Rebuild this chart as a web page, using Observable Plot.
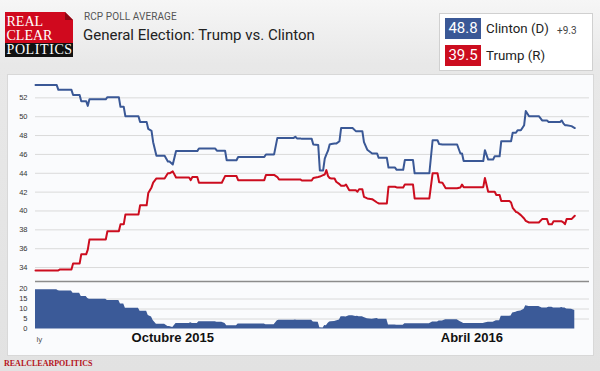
<!DOCTYPE html>
<html><head><meta charset="utf-8">
<script src="https://cdn.jsdelivr.net/npm/d3@7"></script>
<script src="https://cdn.jsdelivr.net/npm/@observablehq/plot@0.6"></script>
<style>
html,body{margin:0;padding:0;}
body{width:600px;height:371px;position:relative;overflow:hidden;background:linear-gradient(#f6f6f6 0px,#e8e8e8 65px,#e2e2e2 100%);font-family:Roboto,"Liberation Sans",Arial,sans-serif;}
.abs{position:absolute;}
#logo-red{left:5px;top:12px;width:68px;height:31px;background:#d0091e;clip-path:polygon(0 0,60px 0,68px 8px,68px 100%,0 100%);}
#logo-fold{left:65px;top:12px;width:8px;height:8px;background:#8e0613;clip-path:polygon(0 0,100% 100%,0 100%);}
#logo-black{left:5px;top:43px;width:68px;height:14px;background:#111;}
.logo-t{font-family:"Liberation Serif","Times New Roman",serif;font-size:14px;line-height:14px;color:#fff;white-space:nowrap;}
#rcp{left:84px;top:10.6px;font-size:10px;line-height:12px;color:#555;letter-spacing:0.1px;}
#title{left:83px;top:26.8px;font-size:15px;line-height:16px;color:#222;}
#legend{left:439px;top:13px;width:152px;height:56px;background:#fff;border:1px solid #d0d0d0;}
.vbox{width:36px;height:21px;color:#fff;font-size:15px;line-height:21px;text-align:center;}
.lname{font-size:13.3px;line-height:16px;color:#222;}
#panel{left:7px;top:74px;width:585px;height:280px;background:#fafbfd;border:1px solid #d8d8d8;}
#footer{left:4px;top:358.5px;font-family:"Liberation Serif","Times New Roman",serif;font-weight:bold;font-size:8px;line-height:10px;color:#b5121b;}
</style></head>
<body>
<div id="logo-red" class="abs"></div>
<div id="logo-fold" class="abs"></div>
<div id="logo-black" class="abs"></div>
<div class="abs logo-t" style="left:6.5px;top:15px;">REAL</div>
<div class="abs logo-t" style="left:6.5px;top:28.5px;">CLEAR</div>
<div class="abs logo-t" style="left:6.5px;top:43px;letter-spacing:0.6px;">POLITICS</div>
<div id="rcp" class="abs">RCP POLL AVERAGE</div>
<div id="title" class="abs">General Election: Trump vs. Clinton</div>
<div id="legend" class="abs"></div>
<div id="panel" class="abs"></div>
<div id="main" class="abs" style="left:0;top:75px;"></div>
<div id="lower" class="abs" style="left:0;top:281px;"></div>
<div id="footer" class="abs">REALCLEARPOLITICS</div>
<script>
// ---- data ----
const startDate = "2015-07-09"; // day 0
const days = [0,13,14,15,22,23,27,28,31,32,33,43,44,51,52,54,55,63,64,68,69,71,72,74,79,81,82,84,86,94,95,96,99,100,110,111,114,116,117,123,124,140,141,146,148,149,158,159,160,162,163,169,170,173,174,176,177,178,179,180,181,183,184,186,187,189,190,192,194,196,197,198,200,201,203,206,209,210,215,216,220,221,225,226,231,232,241,243,246,247,249,251,258,260,261,262,274,275,277,280,281,282,284,285,290,291,292,294,295,297,299,300,302,308,310,313,314,316,317,321,322,323,324,325,328,330];
const clinton = [53.35,53.35,52.85,52.85,52.85,52.3,52.3,51.65,51.65,51.15,51.85,51.85,52.07,52.07,51.05,51.05,50.05,50.05,49.45,49.45,48.7,48.5,47.3,45.85,45.85,45.25,45.25,44.93,46.35,46.35,46.35,46.35,46.35,46.62,46.62,46.4,46.4,46.4,45.38,45.38,45.72,45.72,46.0,46.0,47.75,47.75,47.75,47.88,47.7,47.7,47.65,47.65,47.05,47.0,44.3,44.3,45.56,46.0,46.4,47.05,47.1,47.15,47.15,47.4,48.8,48.8,48.8,48.8,48.8,48.47,48.47,48.47,48.47,47.3,46.5,46.1,46.1,45.64,45.64,44.6,44.6,44.37,44.37,45.4,45.4,44.0,44.0,47.5,47.5,47.1,47.05,47.05,47.05,46.1,46.1,45.3,45.3,46.45,45.45,45.45,45.8,45.8,45.8,47.4,47.4,47.4,48.3,48.3,48.57,48.57,49.1,50.6,50.05,50.05,49.6,49.6,49.45,49.45,49.45,49.45,49.6,49.3,49.1,49.1,49.0,48.8];
const trump = [33.7,33.7,33.7,33.8,33.8,34.42,34.42,35.4,35.4,35.9,36.97,36.97,37.85,37.85,38.58,38.58,39.62,39.62,40.6,40.6,41.9,42.5,43.0,43.45,43.45,44.0,44.0,44.2,43.55,43.55,43.27,43.6,43.6,43.0,43.0,43.0,43.0,43.7,43.7,43.7,43.27,43.27,43.82,43.82,43.6,43.35,43.35,43.35,43.35,43.35,43.23,43.23,43.5,43.6,43.65,43.8,43.87,44.33,43.7,43.5,43.45,43.45,43.1,42.85,42.67,42.67,42.8,42.2,42.2,42.2,42.04,42.3,42.3,41.5,41.33,41.25,40.9,40.8,40.8,42.57,42.57,42.5,42.5,42.8,42.8,41.33,41.33,44.0,44.0,43.05,43.0,42.42,42.42,42.5,42.8,42.53,42.53,43.5,42.04,42.04,42.04,41.7,41.7,41.05,41.05,40.9,40.34,39.9,39.85,39.56,39.2,38.95,38.78,38.78,39.14,39.14,38.6,38.6,38.9,38.9,38.9,38.8,38.6,39.14,39.14,39.5];
const mainTicks = [34,36,38,40,42,44,46,48,50,52];
const spreadTicks = [0,5,10,15,20];
const spreadGrid = [5,10,15];
const monthDates = ["2015-10-01","2016-04-01"];
const monthLabels = ["Octubre 2015","Abril 2016"];
const edgeLabel = "ly";
const legendNames = ["Clinton (D)","Trump (R)"];
const legendValues = ["48.8","39.5"];
const legendSpread = "+9.3";

// ---- styling ----
const BLUE = "#3a5896", RED = "#cc0d1f", AREA = "#3b5a98";
const t0 = new Date(startDate + "T00:00:00Z");
const toDate = d => new Date(t0.getTime() + d * 864e5);
const rows = days.map((d, i) => ({date: toDate(d), clinton: clinton[i], trump: trump[i], spread: +(clinton[i] - trump[i]).toFixed(2)}));
const xDomain = [toDate(0), toDate(339)];
const yMin = 32.52, yMax = 54.37;
const baseStyle = {background: "transparent", fontFamily: "'Liberation Sans', Arial, sans-serif", fontSize: "7.5px", color: "#333", overflow: "visible"};

const main = Plot.plot({
  width: 600, height: 207,
  marginLeft: 35, marginRight: 11, marginTop: 0, marginBottom: 1,
  style: baseStyle,
  x: {type: "utc", domain: xDomain, axis: null},
  y: {domain: [yMin, yMax], ticks: mainTicks, tickSize: 0, tickPadding: 8, label: null, tickFormat: d => String(d)},
  marks: [
    Plot.ruleY(mainTicks, {stroke: "#dadada", strokeWidth: 1}),
    Plot.ruleY([yMin], {stroke: "#8c8c8c", strokeWidth: 1.3}),
    Plot.line(rows, {x: "date", y: "trump", stroke: RED, strokeWidth: 2}),
    Plot.line(rows, {x: "date", y: "clinton", stroke: BLUE, strokeWidth: 2})
  ]
});
document.getElementById("main").appendChild(main);

const lower = Plot.plot({
  width: 600, height: 75,
  marginLeft: 35, marginRight: 11, marginTop: 7.5, marginBottom: 27.5,
  style: baseStyle,
  x: {type: "utc", domain: xDomain, axis: null},
  y: {domain: [0, 20], ticks: spreadTicks, tickSize: 0, tickPadding: 8, label: null, tickFormat: d => String(d)},
  marks: [
    Plot.ruleY(spreadGrid, {stroke: "#dadada", strokeWidth: 1}),
    Plot.areaY(rows, {x: "date", y: "spread", fill: AREA}),
    Plot.text(monthDates, {x: d => new Date(d + "T00:00:00Z"), text: (d, i) => monthLabels[i], frameAnchor: "bottom", dy: 13, fontSize: 13, fontWeight: "bold", fill: "#111", fontFamily: "'Liberation Sans', Arial, sans-serif"}),
    Plot.text([edgeLabel], {x: () => xDomain[0], text: d => d, frameAnchor: "bottom", dy: 13, dx: 1, textAnchor: "start", fontSize: 8, fill: "#555"})
  ]
});
document.getElementById("lower").appendChild(lower);

// ---- legend (HTML) ----
const legendColors = [BLUE, RED];
const legendTops = [18, 45];
legendNames.forEach((name, i) => {
  const box = document.createElement("div");
  box.className = "abs vbox";
  box.style.left = "445px"; box.style.top = legendTops[i] + "px";
  box.style.background = legendColors[i];
  box.textContent = legendValues[i];
  document.body.appendChild(box);
  const lab = document.createElement("div");
  lab.className = "abs lname";
  lab.style.left = "486px"; lab.style.top = (legendTops[i] + 2.5) + "px";
  lab.textContent = name;
  document.body.appendChild(lab);
});
const sp = document.createElement("div");
sp.className = "abs";
sp.style.cssText = "left:557px;top:25px;font-size:10px;line-height:12px;color:#444;";
sp.textContent = legendSpread;
document.body.appendChild(sp);
</script>
</body></html>
